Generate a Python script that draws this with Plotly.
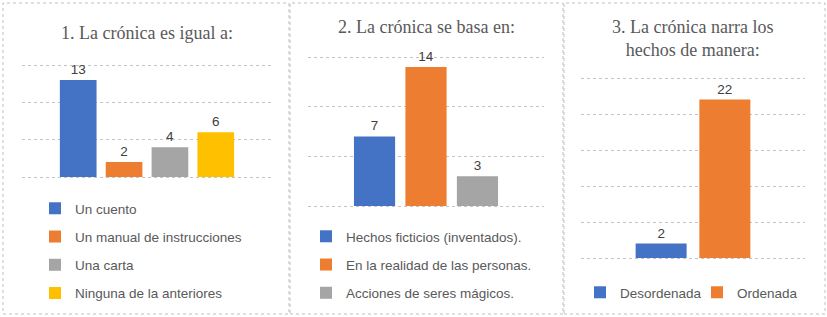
import plotly.graph_objects as go

W, H = 827, 317

# ---- data ----
title1 = "1. La crónica es igual a:"
cats1 = ["Un cuento", "Un manual de instrucciones", "Una carta", "Ninguna de la anteriores"]
vals1 = [13, 2, 4, 6]

title2 = "2. La crónica se basa en:"
cats2 = ["Hechos ficticios (inventados).", "En la realidad de las personas.", "Acciones de seres mágicos."]
vals2 = [7, 14, 3]

title3 = "3. La crónica narra los<br>hechos de manera:"
cats3 = ["Desordenada", "Ordenada"]
vals3 = [2, 22]

colors = ["#4472C4", "#ED7D31", "#A5A5A5", "#FFC000"]

def px(x):
    return x / W

def py(y):
    return 1 - y / H

fig = go.Figure()

panels = [
    dict(cats=cats1, vals=vals1, ax="", legend="legend", xr=0.477, yr=15, dt=5),
    dict(cats=cats2, vals=vals2, ax="2", legend="legend2", xr=0.535, yr=15, dt=5),
    dict(cats=cats3, vals=vals3, ax="3", legend="legend3", xr=0.615, yr=25, dt=5),
]

for p in panels:
    for i, (c, v) in enumerate(zip(p["cats"], p["vals"])):
        fig.add_trace(go.Bar(
            x=[""], y=[v], name=c,
            marker=dict(color=colors[i], line=dict(width=0)),
            text=[str(v)], textposition="outside", cliponaxis=False,
            textfont=dict(family="Liberation Sans, Arial, sans-serif", size=13.5, color="#404040"),
            xaxis="x" + p["ax"], yaxis="y" + p["ax"],
            legend=p["legend"], legendgroup=p["legend"] + str(i),
            hoverinfo="skip",
        ))

# pixel positions of plot areas: (x-left, x-right), (y of value 0, y of top value)
domains = [
    ((22, 272), (177, 65)),
    ((308, 544), (206, 57)),
    ((581, 805), (258, 78)),
]

layout = dict(
    width=W, height=H,
    margin=dict(l=0, r=0, t=0, b=0, autoexpand=False),
    paper_bgcolor="white", plot_bgcolor="white",
    barmode="group", bargap=0.3, bargroupgap=0.2,
    showlegend=True,
    font=dict(family="Liberation Sans, Arial, sans-serif", color="#595959"),
)

EPS = 0.03  # fraction of range padding so end gridlines are drawn
for k, (p, ((x0, x1), (yb, yt))) in enumerate(zip(panels, domains)):
    suf = "" if k == 0 else str(k + 1)
    pad = p["yr"] * EPS
    scale = (yb - yt) / p["yr"]
    layout["xaxis" + suf] = dict(
        domain=[px(x0), px(x1)], range=[-p["xr"], p["xr"]],
        showticklabels=False, showgrid=False, zeroline=False, showline=False,
        anchor="y" + suf, fixedrange=True,
    )
    layout["yaxis" + suf] = dict(
        domain=[py(yb + pad * scale), py(yt - pad * scale)],
        range=[-pad, p["yr"] + pad], tick0=0, dtick=p["dt"],
        showticklabels=False, showgrid=True, gridcolor="#C4C4C4", griddash="dot",
        gridwidth=1, zeroline=False, showline=False, anchor="x" + suf, fixedrange=True,
    )

legfont = dict(family="Liberation Sans, Arial, sans-serif", size=13.5, color="#595959")
layout["legend"] = dict(x=px(35), y=py(193), xanchor="left", yanchor="top",
                        orientation="v", font=legfont, tracegroupgap=7.7,
                        bgcolor="rgba(0,0,0,0)")
layout["legend2"] = dict(x=px(306), y=py(221), xanchor="left", yanchor="top",
                         orientation="v", font=legfont, tracegroupgap=7.7,
                         bgcolor="rgba(0,0,0,0)")
layout["legend3"] = dict(x=px(580), y=py(277), xanchor="left", yanchor="top",
                         orientation="h", font=legfont, tracegroupgap=0,
                         entrywidth=72, entrywidthmode="pixels",
                         bgcolor="rgba(0,0,0,0)")

fig.update_layout(**layout)

titlefont = dict(family="Liberation Serif, Times New Roman, serif", size=18, color="#595959")
fig.add_annotation(text=title1, x=px(147), y=py(33), xref="paper", yref="paper",
                   showarrow=False, font=titlefont, xanchor="center", yanchor="middle")
fig.add_annotation(text=title2, x=px(426), y=py(27), xref="paper", yref="paper",
                   showarrow=False, font=titlefont, xanchor="center", yanchor="middle")
fig.add_annotation(text=title3, x=px(692), y=py(38.5), xref="paper", yref="paper",
                   showarrow=False, font=titlefont, xanchor="center", yanchor="middle")

# panel borders
bline = dict(color="#BFBFBF", width=1, dash="dot")
for (x0, x1) in [(3, 289), (290, 563), (564, 825)]:
    fig.add_shape(type="rect", xref="paper", yref="paper",
                  x0=px(x0), x1=px(x1), y0=py(314), y1=py(3), line=bline)

fig.write_html("out.html", config={"displayModeBar": False},
               post_script="document.body.style.margin='0';")
